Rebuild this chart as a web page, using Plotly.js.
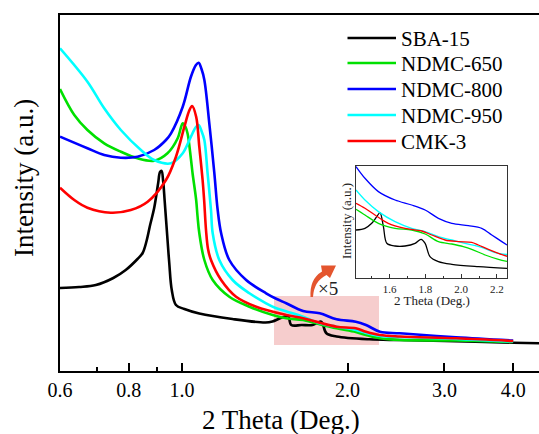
<!DOCTYPE html>
<html><head><meta charset="utf-8">
<script src="https://cdn.plot.ly/plotly-3.0.1.min.js"></script>
<style>html,body{margin:0;padding:0;background:#fff}#chart{width:539px;height:434px}</style>
</head><body><div id="chart"></div>
<script>
// ---------- data (main panel, 2 Theta in degrees, intensity in a.u.) ----------
const seriesNames = ['SBA-15', 'NDMC-650', 'NDMC-800', 'NDMC-950', 'CMK-3'];
const seriesColors = ['#000000', '#00e000', '#0000ff', '#00ffff', '#ff0000'];

const sba15X = [0.6, 0.65, 0.697, 0.75, 0.79, 0.83, 0.848, 0.862, 0.875, 0.89, 0.905, 0.912, 0.918, 0.924, 0.93, 0.94, 0.948, 0.958, 0.975, 1.01, 1.075, 1.235, 1.418, 1.46, 1.504, 1.54, 1.56, 1.58, 1.65, 1.727, 1.786, 1.80, 1.83, 1.91, 2.19, 2.49, 3.0, 4.0, 4.46];
const sba15Y = [83, 84, 86, 93, 101, 112, 118, 130, 146, 163, 188, 199, 200, 190, 170, 135, 108, 81, 66, 62, 57.5, 52, 48.5, 49.5, 52.5, 54.5, 55, 46, 46, 46, 49.5, 48, 37.7, 34.5, 31.7, 31, 30, 28.3, 27.7];

const ndmc650X = [0.6, 0.637, 0.673, 0.722, 0.774, 0.83, 0.89, 0.941, 0.982, 0.995, 1.003, 1.015, 1.024, 1.038, 1.045, 1.061, 1.067, 1.075, 1.098, 1.137, 1.219, 1.326, 1.462, 1.547, 1.66, 1.78, 1.91, 2.07, 2.16, 2.29, 2.49, 3.15, 4.0];
const ndmc650Y = [282, 256, 241, 227.7, 219.3, 212.7, 210.3, 217.7, 232.7, 243, 247.7, 244, 237, 212, 198, 171, 155, 138, 111, 91, 74.3, 64.3, 56, 52.7, 51, 46.7, 42.7, 39, 36, 32.7, 31, 30.5, 29];

const ndmc800X = [0.6, 0.673, 0.722, 0.774, 0.83, 0.89, 0.935, 0.955, 1.003, 1.038, 1.06, 1.072, 1.085, 1.098, 1.121, 1.145, 1.161, 1.178, 1.219, 1.308, 1.422, 1.48, 1.55, 1.66, 1.78, 1.91, 2.07, 2.16, 2.29, 2.49, 3.15, 4.0];
const ndmc800Y = [234.3, 222.7, 216, 213.3, 214.3, 221, 231, 237.7, 264.3, 294.3, 306, 308.3, 302, 291, 247.7, 197.7, 161, 137.7, 111, 91, 77.7, 72.5, 67.5, 60, 57.7, 51.7, 49.3, 46, 39.3, 37.7, 33.7, 30.5];

const ndmc950X = [0.6, 0.673, 0.722, 0.774, 0.842, 0.89, 0.955, 1.003, 1.038, 1.06, 1.072, 1.085, 1.098, 1.113, 1.129, 1.137, 1.169, 1.236, 1.326, 1.422, 1.48, 1.55, 1.66, 1.78, 1.91, 2.07, 2.16, 2.29, 2.49, 3.15, 4.0];
const ndmc950Y = [322.7, 289.3, 262.7, 241, 221, 211, 207.7, 217.7, 234.3, 244, 246, 240, 231, 197.7, 161, 137.7, 111, 91, 77.7, 67.7, 63, 59.5, 54.3, 47.7, 44.3, 41, 38, 35, 34, 32, 29.5];

const cmk3X = [0.6, 0.637, 0.673, 0.742, 0.807, 0.866, 0.935, 0.975, 1.01, 1.03, 1.043, 1.061, 1.075, 1.09, 1.097, 1.106, 1.115, 1.129, 1.178, 1.254, 1.364, 1.547, 1.66, 1.78, 1.91, 2.07, 2.16, 2.29, 2.49, 3.15, 4.0];
const cmk3Y = [183.3, 171, 163.3, 158.3, 161, 169.3, 191, 214.3, 244.3, 260, 265, 254.3, 224.3, 191, 171, 140, 122, 111, 91, 74.3, 64.3, 56, 52.7, 48.3, 44.3, 42.7, 39.3, 36, 34.5, 32.7, 30];

// ---------- data (inset, x5 magnified region) ----------
const insetSba15X = [1.413, 1.463, 1.501, 1.529, 1.547, 1.566, 1.585, 1.631, 1.687, 1.743, 1.776, 1.799, 1.826, 1.873, 1.948, 2.096, 2.256];
const insetSba15Y = [48.3, 50, 55, 61.7, 65.7, 51.7, 35, 32.3, 32.3, 35, 39, 35, 21.7, 16.7, 14, 11.7, 10];
const insetNdmc650X = [1.413, 1.463, 1.538, 1.631, 1.724, 1.799, 1.873, 1.948, 2.012, 2.059, 2.134, 2.208, 2.256];
const insetNdmc650Y = [69, 63.3, 55, 50, 48.3, 44.3, 36.7, 34.3, 31.7, 29, 23.3, 19, 17];
const insetNdmc800X = [1.413, 1.463, 1.538, 1.631, 1.724, 1.799, 1.873, 1.948, 2.040, 2.115, 2.171, 2.227, 2.256];
const insetNdmc800Y = [111.7, 100, 86.7, 78.3, 73.3, 68.3, 60, 55, 52.7, 50, 43.3, 36.7, 33.3];
const insetNdmc950X = [1.413, 1.463, 1.538, 1.631, 1.724, 1.799, 1.873, 1.948, 2.022, 2.115, 2.190, 2.256];
const insetNdmc950Y = [88.3, 78.3, 66.7, 56.7, 50, 46.7, 41.7, 38.3, 35, 31, 25.7, 23.8];
const insetCmk3X = [1.413, 1.463, 1.519, 1.593, 1.687, 1.780, 1.836, 1.910, 1.985, 2.059, 2.096, 2.152, 2.208, 2.256];
const insetCmk3Y = [75, 70, 63.3, 55, 50, 47.3, 43.3, 38.3, 36.7, 36, 33.3, 29, 25, 22];

const mainTickVals = [0.6, 0.8, 1.0, 2.0, 3.0, 4.0];
const mainTickText = ['0.6', '0.8', '1.0', '2.0', '3.0', '4.0'];
const mainMinorTicks = [0.7, 0.9];
const insetTickVals = [1.6, 1.8, 2.0, 2.2];
const insetTickText = ['1.6', '1.8', '2.0', '2.2'];
const insetMinorTicks = [1.5, 1.7, 1.9, 2.1];

// ---------- layout helpers ----------
const W = 539, H = 434, ML = 60, MR = 0, MT = 15, MB = 63;
const PW = W - ML - MR, PH = H - MT - MB;
const fx = p => (p - ML) / PW;
const fy = p => (H - MB - p) / PH;
const FONT = 'Liberation Serif, Times New Roman, serif';

const mainX = [sba15X, ndmc650X, ndmc800X, ndmc950X, cmk3X];
const mainY = [sba15Y, ndmc650Y, ndmc800Y, ndmc950Y, cmk3Y];
const insX = [insetSba15X, insetNdmc650X, insetNdmc800X, insetNdmc950X, insetCmk3X];
const insY = [insetSba15Y, insetNdmc650Y, insetNdmc800Y, insetNdmc950Y, insetCmk3Y];

const traces = [];
seriesNames.forEach((n, i) => {
  traces.push({x: mainX[i], y: mainY[i], name: n, type: 'scatter', mode: 'lines',
    line: {color: seriesColors[i], width: 2.6, shape: 'spline', smoothing: 1.0},
    xaxis: 'x', yaxis: 'y', showlegend: false, hoverinfo: 'skip'});
});
seriesNames.forEach((n, i) => {
  traces.push({x: insX[i], y: insY[i], name: n + ' (x5)', type: 'scatter', mode: 'lines',
    line: {color: seriesColors[i], width: 1.3, shape: 'spline', smoothing: 0.9},
    xaxis: 'x2', yaxis: 'y2', showlegend: false, hoverinfo: 'skip'});
});

// manual legend
const legRows = [38, 63, 89, 115, 141];
const shapes = [];
const annotations = [];
seriesNames.forEach((n, i) => {
  shapes.push({type: 'line', xref: 'paper', yref: 'paper', x0: fx(347.5), x1: fx(396), y0: fy(legRows[i]), y1: fy(legRows[i]),
    line: {color: seriesColors[i], width: 2.6}});
  annotations.push({xref: 'paper', yref: 'paper', x: fx(399), y: fy(legRows[i] + 1), xanchor: 'left', yanchor: 'middle',
    text: n, showarrow: false, font: {family: FONT, size: 21, color: '#000'}});
});

// highlight rectangle
shapes.push({type: 'rect', xref: 'paper', yref: 'paper', layer: 'below',
  x0: fx(274), x1: fx(379), y0: fy(345), y1: fy(296), fillcolor: '#f6cdcd', line: {width: 0}});

// curved arrow
const arrowPts = [['M', 310.5, 297], ['Q', 309.5, 279, 322, 271.5], ['L', 321, 265.5], ['L', 336, 265.5], ['L', 330, 278], ['L', 326.5, 275], ['Q', 314, 281, 313, 297]];
let arrowPath = '';
arrowPts.forEach(p => {
  arrowPath += p[0];
  for (let k = 1; k < p.length; k += 2) arrowPath += fx(p[k]) + ',' + fy(p[k + 1]) + ' ';
});
arrowPath += 'Z';
shapes.push({type: 'path', xref: 'paper', yref: 'paper', path: arrowPath, fillcolor: '#e4552e', line: {width: 0}});

annotations.push({xref: 'paper', yref: 'paper', x: fx(328), y: fy(288), text: '×5', showarrow: false,
  font: {family: FONT, size: 19, color: '#222'}, xanchor: 'center', yanchor: 'middle'});

// axis titles
annotations.push({xref: 'paper', yref: 'paper', x: fx(281), y: fy(420), text: '2 Theta (Deg.)', showarrow: false,
  font: {family: FONT, size: 27, color: '#000'}, xanchor: 'center', yanchor: 'middle'});
annotations.push({xref: 'paper', yref: 'paper', x: fx(24), y: fy(178), text: 'Intensity (a.u.)', showarrow: false, textangle: -90,
  font: {family: FONT, size: 27, color: '#000'}, xanchor: 'center', yanchor: 'middle'});
annotations.push({xref: 'paper', yref: 'paper', x: fx(432), y: fy(300), text: '2 Theta (Deg.)', showarrow: false,
  font: {family: FONT, size: 13, color: '#222'}, xanchor: 'center', yanchor: 'middle'});
annotations.push({xref: 'paper', yref: 'paper', x: fx(346), y: fy(221), text: 'Intensity (a.u.)', showarrow: false, textangle: -90,
  font: {family: FONT, size: 13, color: '#222'}, xanchor: 'center', yanchor: 'middle'});

const layout = {
  width: W, height: H,
  margin: {l: ML, r: MR, t: MT, b: MB, pad: 0},
  paper_bgcolor: '#fff', plot_bgcolor: 'rgba(0,0,0,0)',
  font: {family: FONT, color: '#000'},
  showlegend: false,
  xaxis: {type: 'log', range: [Math.log10(0.6), Math.log10(4.457)], showgrid: false, zeroline: false,
    showline: true, mirror: true, linecolor: '#000', linewidth: 2.2,
    tickmode: 'array', tickvals: mainTickVals, ticktext: mainTickText,
    ticks: 'inside', ticklen: 8, tickwidth: 2, tickcolor: '#000',
    tickfont: {family: FONT, size: 20, color: '#000'},
    minor: {tickmode: 'array', tickvals: mainMinorTicks, ticks: 'inside', ticklen: 4, tickwidth: 2, tickcolor: '#000', showgrid: false}},
  yaxis: {range: [0, 356], showgrid: false, zeroline: false, showline: true, mirror: false,
    linecolor: '#000', linewidth: 2.2, showticklabels: false, ticks: ''},
  xaxis2: {anchor: 'y2', domain: [fx(356), fx(507)], range: [1.413, 2.256], showgrid: false, zeroline: false,
    showline: true, mirror: true, linecolor: '#333', linewidth: 1,
    tickmode: 'array', tickvals: insetTickVals, ticktext: insetTickText,
    ticks: 'inside', ticklen: 4, tickwidth: 1, tickcolor: '#333',
    tickfont: {family: FONT, size: 11, color: '#222'},
    minor: {tickmode: 'array', tickvals: insetMinorTicks, ticks: 'inside', ticklen: 2, tickwidth: 1, tickcolor: '#333', showgrid: false}},
  yaxis2: {anchor: 'x2', domain: [fy(278.3), fy(166)], range: [0, 112.3], showgrid: false, zeroline: false,
    showline: true, mirror: true, linecolor: '#333', linewidth: 1, showticklabels: false, ticks: ''},
  shapes: shapes,
  annotations: annotations
};

Plotly.newPlot('chart', traces, layout, {staticPlot: true, displayModeBar: false});
</script>
</body></html>
